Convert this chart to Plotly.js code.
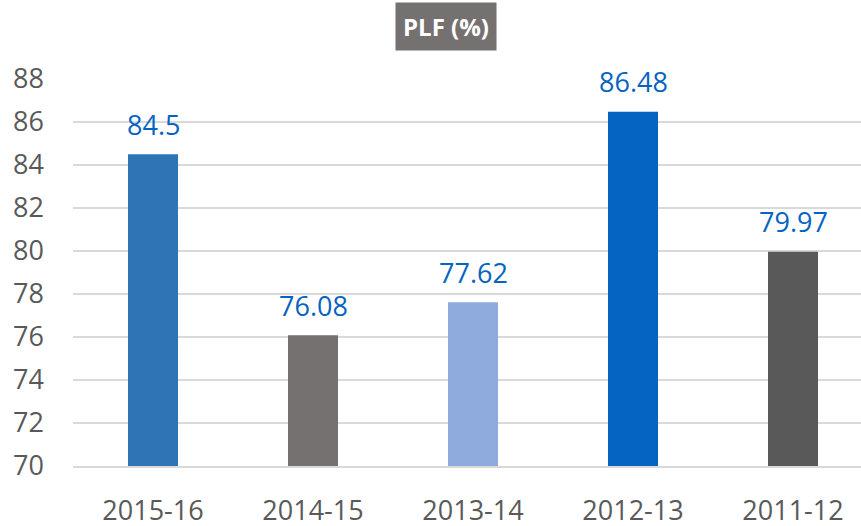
<!DOCTYPE html>
<html>
<head>
<meta charset="utf-8">
<script src="https://cdn.plot.ly/plotly-3.0.1.min.js"></script>
<style>html,body{margin:0;padding:0;background:#fff;}#chart{width:861px;height:526px;}</style>
</head>
<body>
<div id="chart"></div>
<script>
const categories = ["2015-16", "2014-15", "2013-14", "2012-13", "2011-12"];
const plfValues = [84.5, 76.08, 77.62, 86.48, 79.97];
const valueLabels = ["84.5", "76.08", "77.62", "86.48", "79.97"];
const barColors = ["#2E75B6", "#767171", "#8FAADC", "#0563C1", "#595959"];
const yTicks = [70, 72, 74, 76, 78, 80, 82, 84, 86, 88];
const chartTitle = "PLF (%)";

const fontFamily = "'Open Sans', 'DejaVu Sans', sans-serif";

const trace = {
  type: "bar",
  x: categories,
  y: plfValues,
  marker: { color: barColors, line: { width: 0 } },
  hoverinfo: "none",
  cliponaxis: false
};

const labelAnnotations = categories.map((c, i) => ({
  x: c, y: plfValues[i], xref: "x", yref: "y",
  text: valueLabels[i], showarrow: false,
  yanchor: "middle", yshift: 30,
  font: { family: fontFamily, size: 27, color: "#0563C1" }
}));

const titleAnnotation = {
  xref: "paper", yref: "paper", x: (446 - 73) / 788, y: 1 + (79 - 26.5) / 387,
  xanchor: "center", yanchor: "middle",
  text: "<b>" + chartTitle + "</b>", showarrow: false,
  bgcolor: "#767171", borderpad: 7,
  font: { family: fontFamily, size: 24, color: "#FFFFFF" }
};

const layout = {
  width: 861, height: 526,
  margin: { l: 73, r: 0, t: 79, b: 60 },
  paper_bgcolor: "#FFFFFF", plot_bgcolor: "#FFFFFF",
  showlegend: false,
  bargap: 0.6875,
  xaxis: {
    type: "category",
    range: [-0.5, -0.5 + 788 / 160],
    showgrid: false, zeroline: false,
    showline: true, linecolor: "#D9D9D9", linewidth: 1.5,
    ticks: "",
    ticklabelstandoff: 20,
    tickfont: { family: fontFamily, size: 27, color: "#595959" }
  },
  yaxis: {
    range: [70, 88],
    tickvals: yTicks,
    showgrid: true, gridcolor: "#D9D9D9", gridwidth: 1.5,
    zeroline: false, showline: false, ticks: "",
    ticklabelstandoff: 28,
    tickfont: { family: fontFamily, size: 27, color: "#595959" }
  },
  annotations: labelAnnotations.concat([titleAnnotation])
};

Plotly.newPlot("chart", [trace], layout, { displayModeBar: false, staticPlot: true });
</script>
</body>
</html>
